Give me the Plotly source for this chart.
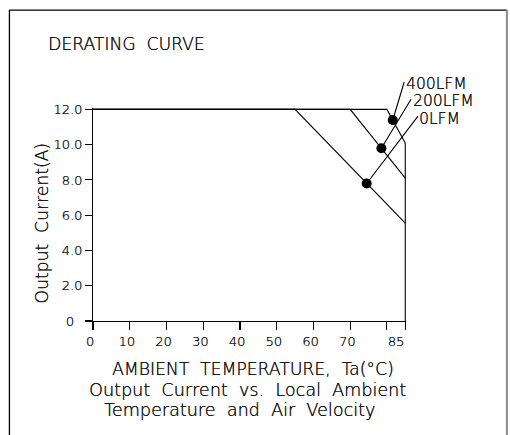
import plotly.graph_objects as go

# ---------------- data ----------------
temps_0lfm = [0, 55, 85]
curr_0lfm = [12.0, 12.0, 5.55]
temps_200lfm = [0, 70, 85]
curr_200lfm = [12.0, 12.0, 8.1]
temps_400lfm = [0, 80, 85]
curr_400lfm = [12.0, 12.0, 10.1]
limit_temps = [85, 85]
limit_curr = [10.1, 0.0]

dot_temps = [74.5, 78.5, 81.6]
dot_curr = [7.8, 9.8, 11.4]
flow_labels = ["0LFM", "200LFM", "400LFM"]
leader_end_temps = [88.6, 86.7, 84.8]
leader_end_curr = [11.66, 12.62, 13.61]
label_temps = [88.6, 86.8, 84.9]
label_curr = [11.45, 12.45, 13.43]

x_tickvals = [0, 10, 20, 30, 40, 50, 60, 70, 80, 85]
x_ticktext = ["0", "10", "20", "30", "40", "50", "60", "70", "", "85\u00a0\u00a0\u00a0"]
y_tickvals = [0, 2, 4, 6, 8, 10, 12]
y_ticktext = ["0\u00a0\u00a0", "2.0", "4.0", "6.0", "8.0", "10.0", "12.0"]

title_text = "DERATING\u00a0\u00a0CURVE"
x_title_lines = [
    "AMBIENT\u00a0\u00a0TEMPERATURE,\u00a0\u00a0Ta(°C)",
    "Output\u00a0\u00a0Current\u00a0\u00a0vs.\u00a0\u00a0Local\u00a0\u00a0Ambient",
    "Temperature\u00a0\u00a0and\u00a0\u00a0Air\u00a0\u00a0Velocity",
]
y_title = "Output\u00a0\u00a0Current(A)"

# ---------------- layout geometry (window pixels) ----------------
W, H = 510, 435
PLOT_L, PLOT_R, PLOT_T, PLOT_B = 93, 405.7, 107.6, 321
ML = PLOT_L
MR = W - PLOT_R
MT = PLOT_T
MB = H - PLOT_B
PW = W - ML - MR
PH = H - MT - MB
X_RANGE = [0, 85.2]
Y_RANGE = [0, 12.08]
FONT = "DejaVu Sans"
INK = "#111111"
LIGHT = 200
SHADOW = "0.3px 0px 0px #111111"


def px_x(px):
    """window pixel -> paper x"""
    return (px - PLOT_L) / PW


def px_y(py):
    """window pixel -> paper y"""
    return (PLOT_B - py) / PH


def data_x(t):
    return (t - X_RANGE[0]) / (X_RANGE[1] - X_RANGE[0])


def data_y(c):
    return (c - Y_RANGE[0]) / (Y_RANGE[1] - Y_RANGE[0])


def tfont(size):
    return dict(family=FONT, size=size, color=INK, weight=LIGHT, shadow=SHADOW)


fig = go.Figure()
line_style = dict(color="black", width=1.1)
for t, c in [(temps_0lfm, curr_0lfm), (temps_200lfm, curr_200lfm),
             (temps_400lfm, curr_400lfm), (limit_temps, limit_curr)]:
    fig.add_trace(go.Scatter(x=t, y=c, mode="lines", line=line_style,
                             hoverinfo="skip"))

fig.add_trace(go.Scatter(x=dot_temps, y=dot_curr, mode="markers",
                         marker=dict(color="black", size=10),
                         cliponaxis=False, hoverinfo="skip"))

annotations = []
# leader lines
for xt, yc, et, ec in zip(dot_temps, dot_curr, leader_end_temps, leader_end_curr):
    annotations.append(dict(x=xt, y=yc, xref="x", yref="y", ax=et, ay=ec,
                            axref="x", ayref="y", text=" ", font=dict(size=1),
                            borderpad=0, showarrow=True, arrowhead=0,
                            arrowwidth=1.1, arrowcolor="black", standoff=0))
# flow labels (positioned on the data scale, placed in paper space)
for lt, lc, txt in zip(label_temps, label_curr, flow_labels):
    annotations.append(dict(x=data_x(lt), y=data_y(lc), xref="paper", yref="paper",
                            text=txt, xanchor="left", yanchor="middle",
                            showarrow=False, borderpad=0, font=tfont(15.5)))
# title
annotations.append(dict(x=px_x(46.5), y=px_y(43.5), xref="paper", yref="paper",
                        text=title_text, xanchor="left", yanchor="middle",
                        showarrow=False, font=tfont(17.2)))
# x title lines
for cx, cy, fs, txt in zip([253, 247, 239], [369, 390, 410], [17.2, 17.6, 17.6],
                           x_title_lines):
    annotations.append(dict(x=px_x(cx), y=px_y(cy), xref="paper", yref="paper",
                            text=txt, xanchor="center", yanchor="middle",
                            showarrow=False, font=tfont(fs)))
# y title
annotations.append(dict(x=px_x(42), y=px_y(222.5), xref="paper", yref="paper",
                        text=y_title, textangle=-90, xanchor="center",
                        yanchor="middle", showarrow=False, font=tfont(17.2)))

# outer frame
frame_l, frame_t, frame_r, frame_b = 9.5, 9.5, 506.5, 445
shapes = [
    dict(type="line", xref="paper", yref="paper", x0=px_x(frame_l), x1=px_x(frame_l),
         y0=px_y(frame_t), y1=px_y(frame_b), line=dict(color="black", width=1.3)),
    dict(type="line", xref="paper", yref="paper", x0=px_x(frame_l), x1=px_x(frame_r),
         y0=px_y(frame_t), y1=px_y(frame_t), line=dict(color="black", width=1.3)),
    dict(type="line", xref="paper", yref="paper", x0=px_x(frame_r), x1=px_x(frame_r),
         y0=px_y(frame_t), y1=px_y(frame_b), line=dict(color="#8a8a8a", width=2)),
]

axis_common = dict(showgrid=False, zeroline=False, showline=True,
                   linecolor="black", linewidth=1.1, ticks="outside",
                   tickcolor="black", tickwidth=1.1, tickfont=tfont(13))

fig.update_layout(
    width=W, height=H,
    margin=dict(l=ML, r=MR, t=MT, b=MB, pad=0),
    paper_bgcolor="white", plot_bgcolor="white",
    showlegend=False,
    hovermode=False,
    xaxis=dict(range=X_RANGE, tickmode="array", tickvals=x_tickvals,
               ticktext=x_ticktext, ticklen=8, ticklabelshift=-3, **axis_common),
    yaxis=dict(range=Y_RANGE, tickmode="array", tickvals=y_tickvals,
               ticktext=y_ticktext, ticklen=7, **axis_common),
    annotations=annotations,
    shapes=shapes,
)

fig.write_html(
    "out.html",
    config={"displayModeBar": False, "staticPlot": True},
    post_script="document.body.style.margin='0';document.body.style.overflow='hidden';",
)
